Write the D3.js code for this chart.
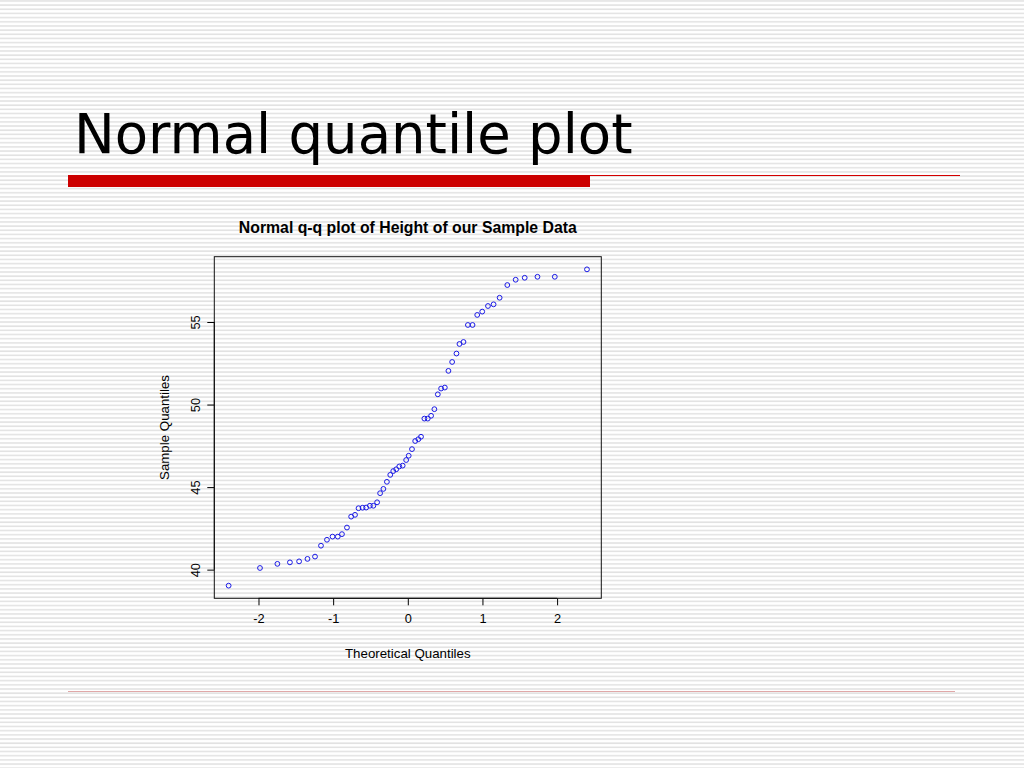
<!DOCTYPE html>
<html>
<head>
<meta charset="utf-8">
<script src="https://d3js.org/d3.v7.min.js"></script>
<style>
  html, body { margin: 0; padding: 0; background: #fff; }
  svg { display: block; }
</style>
</head>
<body>
<div id="slide"></div>
<script>
// values
const slideTitle = "Normal quantile plot";
const chartTitle = "Normal q-q plot of Height of our Sample Data";
const xLabel = "Theoretical Quantiles";
const yLabel = "Sample Quantiles";

const theoretical = [-2.40, -1.980, -1.747, -1.579, -1.456, -1.344, -1.243, -1.163, -1.083, -1.008,
  -0.938, -0.882, -0.815, -0.759, -0.707, -0.660, -0.606, -0.558, -0.508, -0.461,
  -0.411, -0.371, -0.327, -0.280, -0.235, -0.195, -0.155, -0.114, -0.069, -0.022,
  0.012, 0.056, 0.099, 0.141, 0.177, 0.222, 0.267, 0.312, 0.356, 0.402,
  0.446, 0.496, 0.544, 0.594, 0.652, 0.692, 0.746, 0.805, 0.867, 0.930,
  0.997, 1.074, 1.149, 1.230, 1.333, 1.445, 1.566, 1.737, 1.969, 2.40];

const sample = [39.03, 40.10, 40.35, 40.44, 40.50, 40.65, 40.79, 41.45, 41.81, 42.00,
  42.00, 42.15, 42.55, 43.21, 43.32, 43.72, 43.75, 43.76, 43.87, 43.87,
  44.08, 44.63, 44.89, 45.32, 45.74, 45.97, 46.08, 46.25, 46.30, 46.64,
  46.90, 47.30, 47.79, 47.90, 48.05, 49.15, 49.15, 49.32, 49.72, 50.62,
  50.97, 51.03, 52.04, 52.58, 53.09, 53.67, 53.79, 54.82, 54.82, 55.43,
  55.63, 55.97, 56.07, 56.47, 57.24, 57.56, 57.68, 57.74, 57.74, 58.19];

const xTicks = [-2, -1, 0, 1, 2];
const yTicks = [40, 45, 50, 55];

const W = 1024, H = 768;
const svg = d3.select("#slide").append("svg")
  .attr("width", W).attr("height", H)
  .attr("viewBox", [0, 0, W, H]);

// striped slide background
const defs = svg.append("defs");
const pat = defs.append("pattern")
  .attr("id", "stripes")
  .attr("patternUnits", "userSpaceOnUse")
  .attr("width", W).attr("height", 4.17);
pat.append("rect").attr("width", W).attr("height", 4.17).attr("fill", "#ffffff");
pat.append("rect").attr("y", 0.2).attr("width", W).attr("height", 1.5).attr("fill", "#e2e2e2");
svg.append("rect").attr("width", W).attr("height", H).attr("fill", "url(#stripes)");

// slide title + red rule
svg.append("text")
  .attr("x", 74).attr("y", 153)
  .attr("font-family", "DejaVu Sans, Verdana, sans-serif")
  .attr("font-size", 54.5)
  .attr("fill", "#000")
  .text(slideTitle);

svg.append("rect").attr("x", 68).attr("y", 175).attr("width", 522).attr("height", 12).attr("fill", "#cc0000");
svg.append("line").attr("x1", 590).attr("x2", 960).attr("y1", 175.5).attr("y2", 175.5)
  .attr("stroke", "#d40000").attr("stroke-width", 1);
svg.append("line").attr("x1", 68).attr("x2", 955).attr("y1", 691.5).attr("y2", 691.5)
  .attr("stroke", "#e0a8a8").attr("stroke-width", 1);

// plot region (R style, 4% padding on each side)
const box = { left: 214.3, right: 601.3, top: 256.7, bottom: 598.3 };

function padded(ext) {
  const p = (ext[1] - ext[0]) * 0.04;
  return [ext[0] - p, ext[1] + p];
}

const x = d3.scaleLinear().domain(padded(d3.extent(theoretical))).range([box.left, box.right]);
const y = d3.scaleLinear().domain(padded(d3.extent(sample))).range([box.bottom, box.top]);

const font = "Liberation Sans, Arial, Helvetica, sans-serif";

svg.append("text")
  .attr("x", (box.left + box.right) / 2).attr("y", 233)
  .attr("text-anchor", "middle")
  .attr("font-family", font).attr("font-weight", "bold").attr("font-size", 15.8)
  .text(chartTitle);

// x axis
const xAxis = d3.axisBottom(x).tickValues(xTicks).tickSize(7).tickPadding(9)
  .tickFormat(d => d);
const gx = svg.append("g").attr("transform", `translate(0,${box.bottom})`).call(xAxis);
gx.select(".domain").attr("d", `M${x(xTicks[0])},0H${x(xTicks[xTicks.length - 1])}`);
gx.selectAll("text").attr("font-family", font).attr("font-size", 12.8).attr("fill", "#000");

// y axis, labels parallel to the axis
const yAxis = d3.axisLeft(y).tickValues(yTicks).tickSize(7).tickFormat(d => d);
const gy = svg.append("g").attr("transform", `translate(${box.left},0)`).call(yAxis);
gy.select(".domain").attr("d", `M0,${y(yTicks[0])}V${y(yTicks[yTicks.length - 1])}`);
gy.selectAll(".tick text")
  .attr("x", null).attr("dy", null)
  .attr("text-anchor", "middle")
  .attr("transform", "translate(-14,0) rotate(-90)")
  .attr("font-family", font).attr("font-size", 12.8).attr("fill", "#000");

svg.selectAll(".tick line").attr("stroke", "#000");

// frame
svg.append("rect")
  .attr("x", box.left).attr("y", box.top)
  .attr("width", box.right - box.left).attr("height", box.bottom - box.top)
  .attr("fill", "none").attr("stroke", "#111").attr("stroke-width", 1);

// axis titles
svg.append("text")
  .attr("x", (box.left + box.right) / 2).attr("y", 658)
  .attr("text-anchor", "middle")
  .attr("font-family", font).attr("font-size", 13.3)
  .text(xLabel);

svg.append("text")
  .attr("transform", `translate(168.5,${(box.top + box.bottom) / 2}) rotate(-90)`)
  .attr("text-anchor", "middle")
  .attr("font-family", font).attr("font-size", 13.3)
  .text(yLabel);

// points
svg.append("g")
  .selectAll("circle")
  .data(theoretical.map((t, i) => ({ t, s: sample[i] })))
  .join("circle")
  .attr("cx", d => x(d.t))
  .attr("cy", d => y(d.s))
  .attr("r", 2.4)
  .attr("fill", "none")
  .attr("stroke", "#1a1ae6")
  .attr("stroke-width", 1);
</script>
</body>
</html>
